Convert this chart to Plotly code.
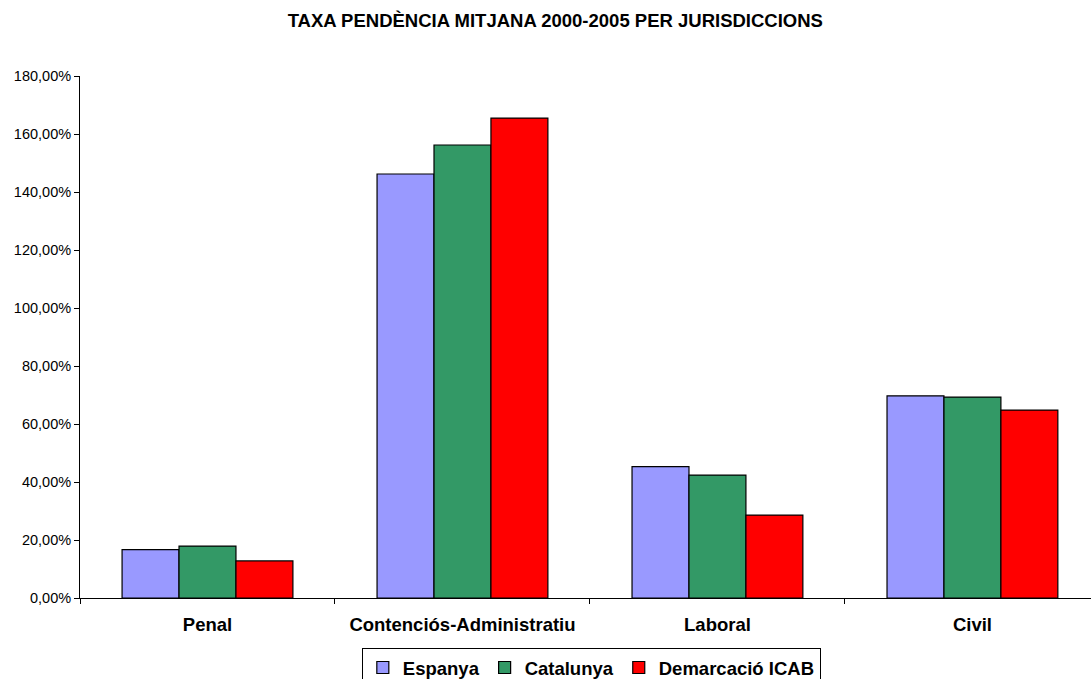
import plotly.graph_objects as go

categories = ["Penal", "Contenciós-Administratiu", "Laboral", "Civil"]
espanya = [16.7, 146.2, 45.3, 69.7]
catalunya = [17.9, 156.2, 42.4, 69.3]
icab = [12.8, 165.5, 28.6, 64.8]
series_names = ["Espanya", "Catalunya", "Demarcació ICAB"]
colors = ["#9999FF", "#339966", "#FF0000"]
y_ticks = [0, 20, 40, 60, 80, 100, 120, 140, 160, 180]
y_tick_text = [f"{v:.2f}".replace(".", ",") + "%" for v in y_ticks]

font = "Arial, Liberation Sans, sans-serif"
fig = go.Figure()
for name, vals, c in zip(series_names, [espanya, catalunya, icab], colors):
    fig.add_trace(go.Bar(x=categories, y=vals, name=f"<b>{name}</b>",
                         marker=dict(color=c, line=dict(color="black", width=1.2))))

fig.update_layout(
    width=1091, height=679,
    paper_bgcolor="white", plot_bgcolor="white",
    barmode="group", bargap=0.33, bargroupgap=0,
    margin=dict(l=80, r=0, t=76, b=81, autoexpand=False),
    title=dict(text="<b>TAXA PENDÈNCIA MITJANA 2000-2005 PER JURISDICCIONS</b>",
               x=0.509, xref="container", xanchor="center",
               y=0.97, yref="container", yanchor="middle",
               font=dict(family=font, size=18.5, color="black")),
    font=dict(family=font, color="black"),
    legend=dict(orientation="h", x=0.542, xanchor="center", xref="container",
                y=0.0457, yanchor="top", yref="container",
                bordercolor="black", borderwidth=1,
                font=dict(family=font, size=18.5, color="black"),
                itemwidth=30, tracegroupgap=0),
    showlegend=True,
)
fig.update_xaxes(range=[-0.5, 3.465],
                 showline=True, linecolor="black", linewidth=1,
                 ticks="outside", tickson="boundaries", ticklen=5, tickcolor="black",
                 ticklabelstandoff=10,
                 tickfont=dict(family=font, size=18.5, color="black"),
                 tickprefix="<b>", ticksuffix="</b>", showgrid=False, automargin=False)
fig.update_yaxes(range=[0, 180], tickvals=y_ticks, ticktext=y_tick_text,
                 showline=True, linecolor="black", linewidth=1,
                 ticks="outside", ticklen=5, tickcolor="black",
                 tickfont=dict(family=font, size=14.5, color="black"),
                 showgrid=False, zeroline=False, automargin=False)

fig.write_html("out.html", config={"displayModeBar": False},
               post_script="document.body.style.margin='0';")
